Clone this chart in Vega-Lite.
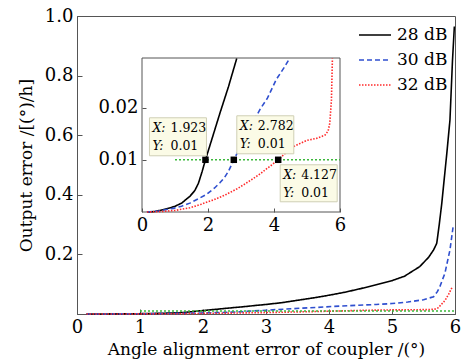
{
  "$schema": "https://vega.github.io/schema/vega-lite/v6.json",
  "width": 378,
  "height": 298,
  "autosize": {"type": "none"},
  "padding": {"left": 77, "top": 16, "right": 11, "bottom": 50},
  "background": "white",
  "config": {
    "font": "DejaVu Serif",
    "view": {"stroke": "#555555", "strokeWidth": 1},
    "axis": {
      "labelFont": "DejaVu Serif",
      "labelFontSize": 18,
      "labelColor": "#000000",
      "titleFont": "DejaVu Serif",
      "titleFontSize": 17,
      "titleFontWeight": "normal",
      "titleColor": "#000000",
      "grid": false,
      "domainColor": "#555555",
      "tickColor": "#555555",
      "tickSize": -5,
      "labelPadding": 9
    }
  },
  "datasets": {
    "curves": [
      {"s": "28 dB", "x": 0.15, "y": 0},
      {"s": "28 dB", "x": 0.4, "y": 0.0001},
      {"s": "28 dB", "x": 0.75, "y": 0.0006},
      {"s": "28 dB", "x": 1.0, "y": 0.0011},
      {"s": "28 dB", "x": 1.2, "y": 0.0017},
      {"s": "28 dB", "x": 1.45, "y": 0.003},
      {"s": "28 dB", "x": 1.6, "y": 0.0041},
      {"s": "28 dB", "x": 1.71, "y": 0.0055},
      {"s": "28 dB", "x": 1.82, "y": 0.0077},
      {"s": "28 dB", "x": 1.923, "y": 0.01},
      {"s": "28 dB", "x": 2.11, "y": 0.0138},
      {"s": "28 dB", "x": 2.36, "y": 0.0189},
      {"s": "28 dB", "x": 2.62, "y": 0.024},
      {"s": "28 dB", "x": 2.87, "y": 0.0294},
      {"s": "28 dB", "x": 3.0, "y": 0.032},
      {"s": "28 dB", "x": 3.25, "y": 0.038},
      {"s": "28 dB", "x": 3.5, "y": 0.046},
      {"s": "28 dB", "x": 3.75, "y": 0.054},
      {"s": "28 dB", "x": 4.0, "y": 0.063},
      {"s": "28 dB", "x": 4.25, "y": 0.073},
      {"s": "28 dB", "x": 4.5, "y": 0.085},
      {"s": "28 dB", "x": 4.75, "y": 0.098},
      {"s": "28 dB", "x": 5.0, "y": 0.112},
      {"s": "28 dB", "x": 5.2, "y": 0.127},
      {"s": "28 dB", "x": 5.44, "y": 0.159},
      {"s": "28 dB", "x": 5.58, "y": 0.19},
      {"s": "28 dB", "x": 5.66, "y": 0.215},
      {"s": "28 dB", "x": 5.71, "y": 0.237},
      {"s": "28 dB", "x": 5.75, "y": 0.3},
      {"s": "28 dB", "x": 5.79, "y": 0.371},
      {"s": "28 dB", "x": 5.87, "y": 0.539},
      {"s": "28 dB", "x": 5.92, "y": 0.651},
      {"s": "28 dB", "x": 5.96, "y": 0.85},
      {"s": "28 dB", "x": 5.99, "y": 0.965},
      {"s": "30 dB", "x": 0.15, "y": 0},
      {"s": "30 dB", "x": 0.5, "y": 0.0002},
      {"s": "30 dB", "x": 0.95, "y": 0.0007},
      {"s": "30 dB", "x": 1.2, "y": 0.0011},
      {"s": "30 dB", "x": 1.45, "y": 0.0017},
      {"s": "30 dB", "x": 1.7, "y": 0.0025},
      {"s": "30 dB", "x": 1.96, "y": 0.0034},
      {"s": "30 dB", "x": 2.2, "y": 0.0046},
      {"s": "30 dB", "x": 2.36, "y": 0.0056},
      {"s": "30 dB", "x": 2.5, "y": 0.0066},
      {"s": "30 dB", "x": 2.62, "y": 0.0078},
      {"s": "30 dB", "x": 2.782, "y": 0.01},
      {"s": "30 dB", "x": 3.0, "y": 0.0127},
      {"s": "30 dB", "x": 3.2, "y": 0.0152},
      {"s": "30 dB", "x": 3.4, "y": 0.0176},
      {"s": "30 dB", "x": 3.58, "y": 0.0197},
      {"s": "30 dB", "x": 3.8, "y": 0.0218},
      {"s": "30 dB", "x": 4.07, "y": 0.0254},
      {"s": "30 dB", "x": 4.3, "y": 0.0276},
      {"s": "30 dB", "x": 4.47, "y": 0.0294},
      {"s": "30 dB", "x": 4.75, "y": 0.032},
      {"s": "30 dB", "x": 5.0, "y": 0.035},
      {"s": "30 dB", "x": 5.25, "y": 0.04},
      {"s": "30 dB", "x": 5.5, "y": 0.048},
      {"s": "30 dB", "x": 5.66, "y": 0.058},
      {"s": "30 dB", "x": 5.72, "y": 0.075},
      {"s": "30 dB", "x": 5.76, "y": 0.092},
      {"s": "30 dB", "x": 5.84, "y": 0.137},
      {"s": "30 dB", "x": 5.92, "y": 0.215},
      {"s": "30 dB", "x": 5.97, "y": 0.293},
      {"s": "32 dB", "x": 0.15, "y": 0},
      {"s": "32 dB", "x": 0.6, "y": 0.0001},
      {"s": "32 dB", "x": 1.0, "y": 0.0003},
      {"s": "32 dB", "x": 1.45, "y": 0.0008},
      {"s": "32 dB", "x": 1.8, "y": 0.0015},
      {"s": "32 dB", "x": 2.16, "y": 0.0023},
      {"s": "32 dB", "x": 2.5, "y": 0.0032},
      {"s": "32 dB", "x": 2.87, "y": 0.0044},
      {"s": "32 dB", "x": 3.1, "y": 0.0053},
      {"s": "32 dB", "x": 3.37, "y": 0.0064},
      {"s": "32 dB", "x": 3.6, "y": 0.0074},
      {"s": "32 dB", "x": 3.78, "y": 0.0083},
      {"s": "32 dB", "x": 3.95, "y": 0.0091},
      {"s": "32 dB", "x": 4.127, "y": 0.01},
      {"s": "32 dB", "x": 4.35, "y": 0.0113},
      {"s": "32 dB", "x": 4.58, "y": 0.0125},
      {"s": "32 dB", "x": 4.78, "y": 0.0131},
      {"s": "32 dB", "x": 4.99, "y": 0.0137},
      {"s": "32 dB", "x": 5.28, "y": 0.0141},
      {"s": "32 dB", "x": 5.54, "y": 0.0147},
      {"s": "32 dB", "x": 5.64, "y": 0.0155},
      {"s": "32 dB", "x": 5.69, "y": 0.017},
      {"s": "32 dB", "x": 5.74, "y": 0.0214},
      {"s": "32 dB", "x": 5.77, "y": 0.0294},
      {"s": "32 dB", "x": 5.82, "y": 0.04},
      {"s": "32 dB", "x": 5.86, "y": 0.052},
      {"s": "32 dB", "x": 5.9, "y": 0.067},
      {"s": "32 dB", "x": 5.96, "y": 0.092}
    ],
    "limit": [
      {"x": 1, "y": 0.01},
      {"x": 6, "y": 0.01}
    ],
    "tips": [
      {"x": 1.923, "y": 0.01},
      {"x": 2.782, "y": 0.01},
      {"x": 4.127, "y": 0.01}
    ]
  },
  "layer": [
    {
      "layer": [
        {
          "data": {"name": "curves"},
          "mark": {"type": "line", "strokeWidth": 1.6},
          "encoding": {
            "x": {
              "field": "x", "type": "quantitative",
              "scale": {"domain": [0, 6], "nice": false, "zero": false},
              "axis": {"values": [0, 1, 2, 3, 4, 5, 6], "format": "d", "labelFlush": false, "titlePadding": 5, "title": "Angle alignment error of coupler /(°)"}
            },
            "y": {
              "field": "y", "type": "quantitative",
              "scale": {"domain": [0, 1], "nice": false},
              "axis": {"values": [0.2, 0.4, 0.6, 0.8, 1.0], "format": ".1f", "titlePadding": 9, "title": "Output error /[(°)/h]"}
            },
            "color": {
              "field": "s", "type": "nominal",
              "scale": {"domain": ["28 dB", "30 dB", "32 dB"], "range": ["#000000", "#2F4FCF", "#FF2A2A"]},
              "legend": {"title": null, "orient": "none", "legendX": 281, "legendY": 2, "padding": 0, "symbolType": "stroke", "symbolSize": 1024, "symbolStrokeWidth": 1.6, "labelFont": "DejaVu Serif", "labelFontSize": 17, "labelColor": "#000000", "labelOffset": 5, "rowPadding": -8}
            },
            "strokeDash": {
              "field": "s", "type": "nominal",
              "scale": {"domain": ["28 dB", "30 dB", "32 dB"], "range": [[1, 0], [5, 3], [1.5, 1.5]]},
              "legend": {"title": null, "orient": "none", "legendX": 281, "legendY": 2, "padding": 0, "symbolType": "stroke", "symbolSize": 1024, "symbolStrokeWidth": 1.6, "labelFont": "DejaVu Serif", "labelFontSize": 17, "labelColor": "#000000", "labelOffset": 5, "rowPadding": -8}
            }
          }
        },
        {
          "data": {"name": "limit"},
          "mark": {"type": "line", "color": "#3BB83B", "strokeDash": [2, 2], "strokeWidth": 1.6},
          "encoding": {
            "x": {"field": "x", "type": "quantitative"},
            "y": {"field": "y", "type": "quantitative"}
          }
        }
      ]
    },
    {
      "layer": [
        {
          "data": {"values": [{}]},
          "mark": {"type": "rect", "fill": "white", "stroke": "#555555", "strokeWidth": 1},
          "encoding": {
            "x": {
              "datum": 0, "type": "quantitative",
              "scale": {"domain": [0, 6], "range": [65, 263], "nice": false, "zero": false},
              "axis": {"orient": "bottom", "offset": -102, "values": [0, 2, 4, 6], "format": "d", "labelFlush": false, "domain": false, "title": null, "zindex": 1, "tickSize": -4, "labelPadding": 8}
            },
            "x2": {"datum": 6},
            "y": {
              "datum": 0, "type": "quantitative",
              "scale": {"domain": [0, 0.0295], "range": [196, 42], "nice": false},
              "axis": {"orient": "left", "offset": -65, "values": [0.01, 0.02], "format": ".2f", "domain": false, "title": null, "zindex": 1, "tickSize": -4, "labelPadding": 8}
            },
            "y2": {"datum": 0.0295}
          }
        },
        {
          "data": {"name": "curves"},
          "transform": [{"filter": "datum.y <= 0.0295"}],
          "mark": {"type": "line", "strokeWidth": 1.6},
          "encoding": {
            "x": {"field": "x", "type": "quantitative"},
            "y": {"field": "y", "type": "quantitative"},
            "color": {"field": "s", "type": "nominal", "legend": null},
            "strokeDash": {"field": "s", "type": "nominal", "legend": null}
          }
        },
        {
          "data": {"name": "limit"},
          "mark": {"type": "line", "color": "#3BB83B", "strokeDash": [2, 2], "strokeWidth": 1.6},
          "encoding": {
            "x": {"field": "x", "type": "quantitative"},
            "y": {"field": "y", "type": "quantitative"}
          }
        },
        {
          "data": {"name": "tips"},
          "layer": [
            {
              "mark": {"type": "point", "shape": "square", "filled": true, "color": "#000000", "size": 42, "opacity": 1},
              "encoding": {
                "x": {"field": "x", "type": "quantitative"},
                "y": {"field": "y", "type": "quantitative"}
              }
            },
            {
              "transform": [{"filter": "datum.x == 1.923"}],
              "layer": [
                {
                  "mark": {"type": "rect", "fill": "#FBFBE6", "stroke": "#CFCFB4", "strokeWidth": 1, "xOffset": -56, "x2Offset": 1, "yOffset": -42, "y2Offset": -4},
                  "encoding": {"x": {"field": "x", "type": "quantitative"}, "x2": {"field": "x"}, "y": {"field": "y", "type": "quantitative"}, "y2": {"field": "y"}}
                },
                {
                  "mark": {"type": "text", "text": "X:", "font": "DejaVu Serif", "fontStyle": "italic", "fontSize": 12.5, "align": "left", "baseline": "middle", "dx": -53, "dy": -32, "color": "#000000"},
                  "encoding": {"x": {"field": "x", "type": "quantitative"}, "y": {"field": "y", "type": "quantitative"}}
                },
                {
                  "mark": {"type": "text", "text": "Y:", "font": "DejaVu Serif", "fontStyle": "italic", "fontSize": 12.5, "align": "left", "baseline": "middle", "dx": -53, "dy": -14, "color": "#000000"},
                  "encoding": {"x": {"field": "x", "type": "quantitative"}, "y": {"field": "y", "type": "quantitative"}}
                },
                {
                  "mark": {"type": "text", "font": "DejaVu Serif", "fontSize": 12.5, "align": "left", "baseline": "middle", "dx": -35, "dy": -32, "color": "#000000"},
                  "encoding": {"x": {"field": "x", "type": "quantitative"}, "y": {"field": "y", "type": "quantitative"}, "text": {"field": "x", "type": "quantitative", "format": ".3f"}}
                },
                {
                  "mark": {"type": "text", "font": "DejaVu Serif", "fontSize": 12.5, "align": "left", "baseline": "middle", "dx": -35, "dy": -14, "color": "#000000"},
                  "encoding": {"x": {"field": "x", "type": "quantitative"}, "y": {"field": "y", "type": "quantitative"}, "text": {"field": "y", "type": "quantitative", "format": ".2f"}}
                }
              ]
            },
            {
              "transform": [{"filter": "datum.x == 2.782"}],
              "layer": [
                {
                  "mark": {"type": "rect", "fill": "#FBFBE6", "stroke": "#CFCFB4", "strokeWidth": 1, "xOffset": 3, "x2Offset": 60, "yOffset": -44, "y2Offset": -6},
                  "encoding": {"x": {"field": "x", "type": "quantitative"}, "x2": {"field": "x"}, "y": {"field": "y", "type": "quantitative"}, "y2": {"field": "y"}}
                },
                {
                  "mark": {"type": "text", "text": "X:", "font": "DejaVu Serif", "fontStyle": "italic", "fontSize": 12.5, "align": "left", "baseline": "middle", "dx": 6, "dy": -34, "color": "#000000"},
                  "encoding": {"x": {"field": "x", "type": "quantitative"}, "y": {"field": "y", "type": "quantitative"}}
                },
                {
                  "mark": {"type": "text", "text": "Y:", "font": "DejaVu Serif", "fontStyle": "italic", "fontSize": 12.5, "align": "left", "baseline": "middle", "dx": 6, "dy": -16, "color": "#000000"},
                  "encoding": {"x": {"field": "x", "type": "quantitative"}, "y": {"field": "y", "type": "quantitative"}}
                },
                {
                  "mark": {"type": "text", "font": "DejaVu Serif", "fontSize": 12.5, "align": "left", "baseline": "middle", "dx": 24, "dy": -34, "color": "#000000"},
                  "encoding": {"x": {"field": "x", "type": "quantitative"}, "y": {"field": "y", "type": "quantitative"}, "text": {"field": "x", "type": "quantitative", "format": ".3f"}}
                },
                {
                  "mark": {"type": "text", "font": "DejaVu Serif", "fontSize": 12.5, "align": "left", "baseline": "middle", "dx": 24, "dy": -16, "color": "#000000"},
                  "encoding": {"x": {"field": "x", "type": "quantitative"}, "y": {"field": "y", "type": "quantitative"}, "text": {"field": "y", "type": "quantitative", "format": ".2f"}}
                }
              ]
            },
            {
              "transform": [{"filter": "datum.x == 4.127"}],
              "layer": [
                {
                  "mark": {"type": "rect", "fill": "#FBFBE6", "stroke": "#CFCFB4", "strokeWidth": 1, "xOffset": 2, "x2Offset": 59, "yOffset": 5, "y2Offset": 42},
                  "encoding": {"x": {"field": "x", "type": "quantitative"}, "x2": {"field": "x"}, "y": {"field": "y", "type": "quantitative"}, "y2": {"field": "y"}}
                },
                {
                  "mark": {"type": "text", "text": "X:", "font": "DejaVu Serif", "fontStyle": "italic", "fontSize": 12.5, "align": "left", "baseline": "middle", "dx": 5, "dy": 15, "color": "#000000"},
                  "encoding": {"x": {"field": "x", "type": "quantitative"}, "y": {"field": "y", "type": "quantitative"}}
                },
                {
                  "mark": {"type": "text", "text": "Y:", "font": "DejaVu Serif", "fontStyle": "italic", "fontSize": 12.5, "align": "left", "baseline": "middle", "dx": 5, "dy": 33, "color": "#000000"},
                  "encoding": {"x": {"field": "x", "type": "quantitative"}, "y": {"field": "y", "type": "quantitative"}}
                },
                {
                  "mark": {"type": "text", "font": "DejaVu Serif", "fontSize": 12.5, "align": "left", "baseline": "middle", "dx": 23, "dy": 15, "color": "#000000"},
                  "encoding": {"x": {"field": "x", "type": "quantitative"}, "y": {"field": "y", "type": "quantitative"}, "text": {"field": "x", "type": "quantitative", "format": ".3f"}}
                },
                {
                  "mark": {"type": "text", "font": "DejaVu Serif", "fontSize": 12.5, "align": "left", "baseline": "middle", "dx": 23, "dy": 33, "color": "#000000"},
                  "encoding": {"x": {"field": "x", "type": "quantitative"}, "y": {"field": "y", "type": "quantitative"}, "text": {"field": "y", "type": "quantitative", "format": ".2f"}}
                }
              ]
            }
          ]
        }
      ]
    }
  ],
  "resolve": {
    "scale": {"x": "independent", "y": "independent"},
    "axis": {"x": "independent", "y": "independent"}
  }
}
